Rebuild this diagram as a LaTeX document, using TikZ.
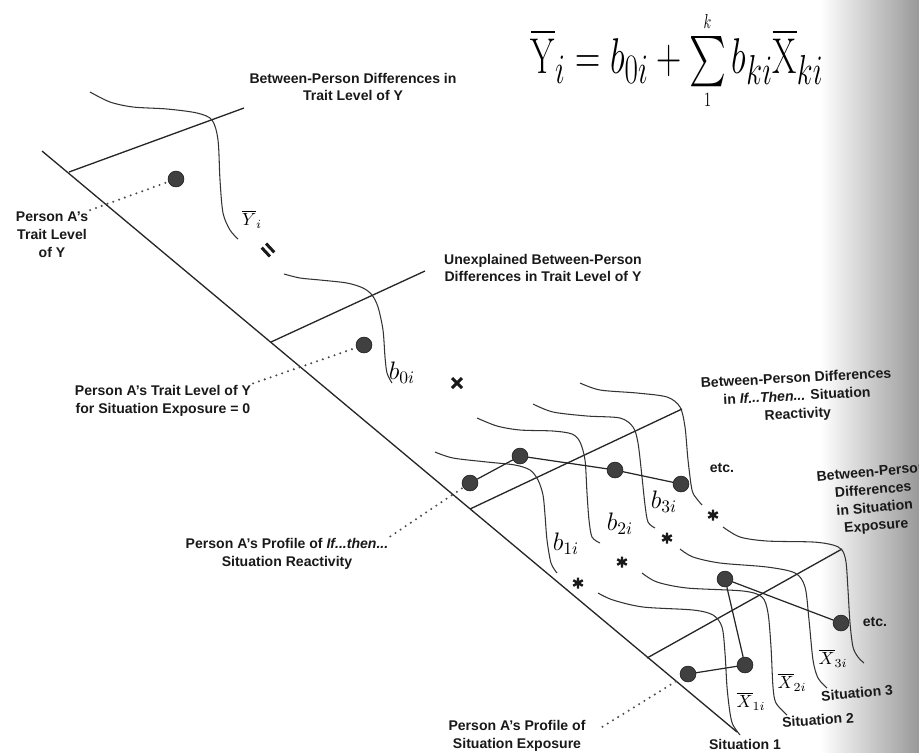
\documentclass[tikz,border=0pt]{standalone}
\usepackage{amsmath}
\usepackage{fontspec}
\setsansfont{Liberation Sans}

% small limits for the sum in the equation
\newcommand\limsize[1]{\hbox{\fontsize{10}{10}\selectfont$#1$}}
\newcommand\sumstack{\mathop{\renewcommand\arraystretch{0}%
  \begin{array}{@{}c@{}}\limsize{k}\\\noalign{\kern4pt}\textstyle\sum\\\noalign{\kern3pt}\limsize{1}\end{array}}}

\tikzset{
  lbl/.style={font=\sffamily\bfseries\fontsize{8}{10.2}\selectfont, align=center, text=black!90, inner sep=1pt},
  mlbl/.style={font=\fontsize{10}{10}\selectfont, inner sep=0pt},
  blbl/.style={font=\fontsize{14.4}{14.4}\selectfont, inner sep=0pt},
  dot/.style={circle, fill=black!75, draw=black!85, inner sep=0pt, minimum size=9pt},
  axisline/.style={line width=0.75pt, draw=black!85},
  curve/.style={line width=0.6pt, draw=black!80},
  profile/.style={line width=0.7pt, draw=black!85},
  symstroke/.style={line width=1.7pt, draw=black!90},
  leader/.style={line width=1.3pt, line cap=round, dash pattern=on 0pt off 3.5pt, draw=black!70}
}

\begin{document}
\begin{tikzpicture}[x=0.02cm, y=-0.02cm]

\useasboundingbox (0,0) rectangle (919,752);

% scan shadow at the right edge
\shade[left color=white, right color=black!40] (820,0) rectangle (919,752);

% Equation
\node[anchor=base] (formula) at (677,73)
  {\scalebox{0.80}[1.15]{\Huge
   $\overline{\mathrm{Y}}_{i}=b_{0i}+\sumstack b_{ki}\overline{\mathrm{X}}_{ki}$}};

% Main axis
\draw[axisline] (42,151) -- (737,732);

% Cross axes
\draw[axisline] (69,172) -- (244,108);
\draw[axisline] (271,342) -- (425,271);
\draw[axisline] (470,509) -- (682,409);
\draw[axisline] (647,658) -- (842,549);

% Trait level distributions
\draw[curve] plot[smooth] coordinates {(90,92) (110,102) (133,107) (167,109) (197,113)
  (212,120) (218,140) (220,180) (223,213) (230,230) (238,239)};
\draw[curve] plot[smooth] coordinates {(284,274) (300,278) (320,280) (347,283) (363,288)
  (372,295) (378,307) (383,330) (385,357) (387,373) (392,383)};

% Reactivity distributions
\draw[curve] plot[smooth] coordinates {(435,452) (453,458) (487,462) (515,465) (530,470)
  (538,480) (543,495) (545,515) (547,540) (551,563) (557,573)};
\draw[curve] plot[smooth] coordinates {(477,418) (497,426) (520,430) (553,431) (572,434)
  (580,442) (585,460) (587,493) (589,520) (592,537) (600,543)};
\draw[curve] plot[smooth] coordinates {(533,404) (553,412) (587,416) (620,418) (633,427)
  (638,443) (642,477) (645,505) (648,522) (655,528)};
\draw[curve] plot[smooth] coordinates {(580,383) (600,390) (637,393) (667,397) (680,407)
  (685,427) (688,460) (692,490) (697,499) (702,505)};

% Exposure distributions
\draw[curve] plot[smooth] coordinates {(598,593) (613,600) (643,607) (693,610) (713,615)
  (722,627) (725,653) (727,687) (730,713) (733,725) (740,735)};
\draw[curve] plot[smooth] coordinates {(642,573) (657,582) (687,588) (743,591) (762,597)
  (768,613) (771,647) (773,687) (776,703) (787,715)};
\draw[curve] plot[smooth] coordinates {(680,549) (693,557) (720,563) (767,567) (795,573)
  (805,587) (809,620) (813,660) (818,678) (827,688)};
\draw[curve] plot[smooth] coordinates {(723,527) (740,537) (767,541) (813,542) (833,545)
  (842,550) (846,562) (848,590) (850,623) (853,647) (858,657) (864,663)};

% Person A
\node[dot] (dY) at (176,179) {};
\node[dot] (dB0) at (364,345) {};
\node[dot] (r1) at (470,483) {};
\node[dot] (r2) at (520,456) {};
\node[dot] (r3) at (615,470) {};
\node[dot] (r4) at (681,484) {};
\node[dot] (e1) at (688,674) {};
\node[dot] (e2) at (745,665) {};
\node[dot] (e3) at (725,579) {};
\node[dot] (e4) at (841,623) {};

\draw[profile] (r1) -- (r2) -- (r3) -- (r4);
\draw[profile] (e1) -- (e2) -- (e3) -- (e4);

% Symbols
\node[mlbl] (yb) at (252,219) {$\overline{Y}_{i}$};
\node[blbl] (b0) at (402,373) {$b_{0i}$};
\node[blbl] (b1) at (566,544) {$b_{1i}$};
\node[blbl] (b2) at (620,524) {$b_{2i}$};
\node[blbl] (b3) at (664,502) {$b_{3i}$};
\node[mlbl] (x1) at (751,701) {$\overline{X}_{1i}$};
\node[mlbl] (x2) at (792,682) {$\overline{X}_{2i}$};
\node[mlbl] (x3) at (833,658) {$\overline{X}_{3i}$};

% equals, times and the asterisks
\draw[symstroke, shift={(268,250)}, rotate=-47] (-6,-3) -- (6,-3) (-6,3) -- (6,3);
\draw[symstroke, shift={(457,383)}] (-5,-5) -- (5,5) (-5,5) -- (5,-5);
\foreach \p in {(578,583),(622,562),(667,538),(713,515)}
  \draw[symstroke, line width=1.4pt, shift={\p}] (90:5.5) -- (270:5.5) (30:5.5) -- (210:5.5) (150:5.5) -- (330:5.5);

% Labels
\node[lbl] (lblTrait) at (353,87) {Between-Person Differences in\\Trait Level of Y};
\node[lbl] (lblUnexpl) at (543,268) {Unexplained Between-Person\\Differences in Trait Level of Y};
\node[lbl, rotate=3] (lblReact) at (797,397) {Between-Person Differences\\in \textit{If...Then...} Situation\\Reactivity};
\node[lbl, rotate=5] (lblExpo) at (874,500) {Between-Person\\Differences\\in Situation\\Exposure};
\node[lbl] (etcR) at (722,468) {etc.};
\node[lbl] (etcE) at (875,622) {etc.};
\node[lbl] (sit1) at (745,744) {Situation 1};
\node[lbl, rotate=4] (sit2) at (818,720) {Situation 2};
\node[lbl, rotate=5] (sit3) at (857,693) {Situation 3};

\node[lbl] (lblA) at (52,235) {Person A's\\Trait Level\\of Y};
\node[lbl] (lblB) at (163,401) {Person A's Trait Level of Y\\for Situation Exposure = 0};
\node[lbl] (lblC) at (287,554) {Person A's Profile of \textit{If...then...}\\Situation Reactivity};
\node[lbl] (lblD) at (517,736) {Person A's Profile of\\Situation Exposure};

% Leaders
\draw[leader] (lblA.north east) -- (dY);
\draw[leader] (lblB.north east) -- (dB0);
\draw[leader] (lblC.north east) -- (r1);
\draw[leader, shorten <=10pt] (lblD.east) -- (e1);

\end{tikzpicture}
\end{document}
